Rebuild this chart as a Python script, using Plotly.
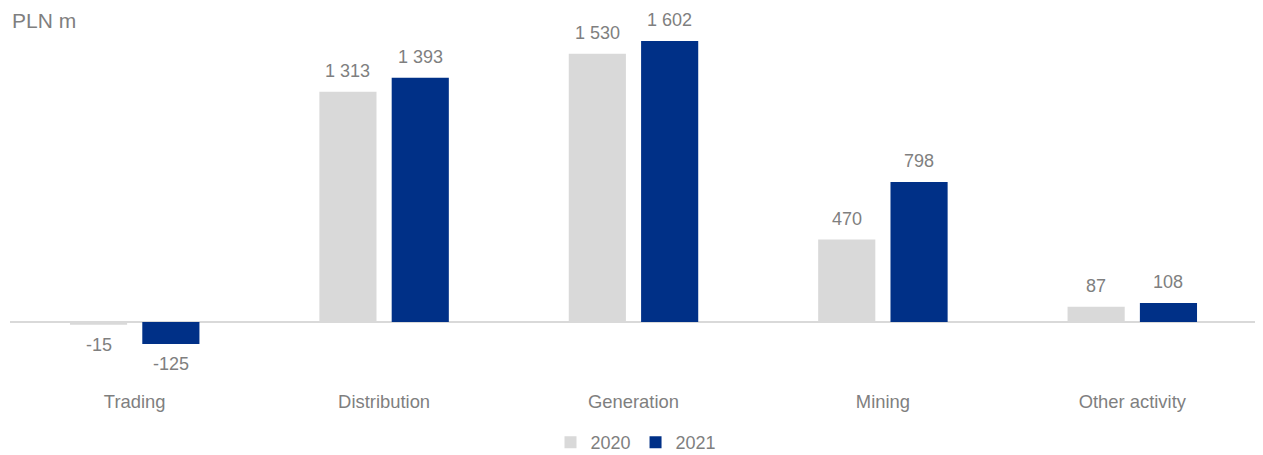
import plotly.graph_objects as go

categories = ["Trading", "Distribution", "Generation", "Mining", "Other activity"]
values_2020 = [-15, 1313, 1530, 470, 87]
values_2021 = [-125, 1393, 1602, 798, 108]
series_names = ["2020", "2021"]
colors = ["#d9d9d9", "#003087"]

FONT = "Liberation Sans, Arial, sans-serif"
GREY = "#7f7f7f"

BARGAP = 0.42
PLOT_W = 1247
SLOT = PLOT_W / len(categories) * (1 - BARGAP) / 2

fig = go.Figure()
annotations = []
for i, (name, vals, col) in enumerate(zip(series_names, [values_2020, values_2021], colors)):
    fig.add_trace(go.Bar(
        x=categories, y=vals, name=name, marker=dict(color=col, line=dict(width=0)),
        cliponaxis=False,
    ))
    xs = (i - 0.5) * SLOT
    for c, v in zip(categories, vals):
        annotations.append(dict(
            x=c, y=v, xref="x", yref="y", text=f"{v:,}".replace(",", " "),
            showarrow=False, xanchor="center", yanchor="middle",
            xshift=xs, yshift=21 if v >= 0 else -20,
            font=dict(family=FONT, size=18, color=GREY)))

annotations.append(dict(text="PLN m", xref="paper", yref="paper", x=0, y=1,
                        xanchor="left", yanchor="top", xshift=1, yshift=12, showarrow=False,
                        borderpad=0, font=dict(family=FONT, size=21, color=GREY)))

# page body has an 8px margin; figure coords = screen coords - 8
fig.update_layout(
    width=1263, height=455,
    margin=dict(l=2, r=14, t=12, b=74, autoexpand=False),
    paper_bgcolor="white", plot_bgcolor="white",
    barmode="group", bargap=BARGAP, bargroupgap=0.21,
    font=dict(family=FONT, size=18, color=GREY),
    showlegend=True,
    legend=dict(orientation="h", x=0.502, xanchor="center", y=-0.095, yanchor="top",
                font=dict(family=FONT, size=18, color=GREY),
                traceorder="normal"),
    xaxis=dict(showline=False, showgrid=False, ticks="", automargin=False,
               tickfont=dict(family=FONT, size=18.4, color=GREY)),
    yaxis=dict(range=[-382, 1722], showgrid=False, showticklabels=False, zeroline=True,
               zerolinecolor="#d9d9d9", zerolinewidth=2, showline=False, automargin=False),
    annotations=annotations,
)
fig.write_html("out.html")
